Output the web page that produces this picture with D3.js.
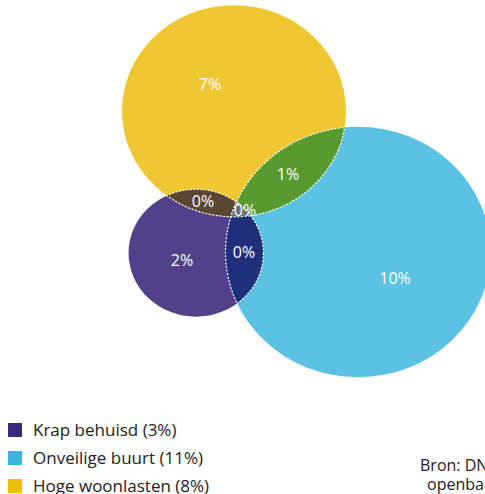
<!DOCTYPE html>
<html>
<head>
<meta charset="utf-8">
<script src="https://cdn.jsdelivr.net/npm/d3@7"></script>
<style>
  html, body { margin: 0; padding: 0; background: #fff; overflow: hidden; }
  svg { display: block; font-family: "Open Sans", sans-serif; }
</style>
</head>
<body>
<svg id="chart" width="485" height="494"></svg>
<script>
// Sets (share of households, %)
const setKeys   = ["krap", "onveilig", "woonlasten"];
const setNames  = ["Krap behuisd", "Onveilige buurt", "Hoge woonlasten"];
const setSizes  = [2.9, 11.2, 8.0];
const legendPct = [3, 11, 8];

// Region labels (exclusive parts of the diagram, %)
const regionSets   = [["woonlasten"], ["onveilig"], ["krap"],
                      ["woonlasten", "onveilig"], ["woonlasten", "krap"],
                      ["krap", "onveilig"], ["woonlasten", "onveilig", "krap"]];
const regionValues = [7, 10, 2, 1, 0, 0, 0];

// Source lines
const sourceLines = ["Bron: DNB", "openbaar"];

// Layout: circle centres and label anchor points in pixels
const centres = { krap: [196, 253], onveilig: [358, 252], woonlasten: [234, 111] };
const labelPos = [[210, 90], [395, 284], [182, 266], [288, 180], [203, 207], [245, 216], [244, 258]];
const squash = 0.945; // vertical aspect of the drawing area

const legendColor = { krap: "#3a2a7e", onveilig: "#3ab4e1", woonlasten: "#eebf00" };
const circleColor = { krap: "#52418a", onveilig: "#5bc2e4", woonlasten: "#efc732" };
const pairColor = {
  "woonlasten|onveilig": "#579a30",
  "woonlasten|krap": "#5a4632",
  "krap|onveilig": "#1f2f7a"
};
const tripleColor = "#6e6e6e";

const svg = d3.select("#chart");

// Radius scale: circle area proportional to set size
const r = d3.scaleSqrt().domain([0, 8.0]).range([0, 112]);

const circles = setKeys.map((k, i) => ({ key: k, cx: centres[k][0], cy: centres[k][1], r: r(setSizes[i]) }));
const byKey = Object.fromEntries(circles.map(c => [c.key, c]));

function shape(sel, c) {
  return sel.attr("cx", c.cx).attr("cy", c.cy).attr("rx", c.r).attr("ry", c.r * squash);
}

const defs = svg.append("defs");
circles.forEach(c => {
  shape(defs.append("clipPath").attr("id", "clip-" + c.key).append("ellipse"), c);
});

const g = svg.append("g");

// Base circles
g.selectAll("ellipse.set")
  .data(circles)
  .join("ellipse")
  .attr("class", "set")
  .each(function (d) { shape(d3.select(this), d); })
  .attr("fill", d => circleColor[d.key]);

// Draws the intersection of the given sets with a filled region and dotted borders
function drawIntersection(keys, color) {
  let inner = g.append("g");
  keys.slice(1).forEach(k => { inner = inner.append("g").attr("clip-path", `url(#clip-${k})`); });
  shape(inner.append("ellipse"), byKey[keys[0]]).attr("fill", color);
  // dotted border: each circle's arc clipped by the other sets
  keys.forEach(k => {
    let gg = g.append("g");
    keys.filter(o => o !== k).forEach(o => { gg = gg.append("g").attr("clip-path", `url(#clip-${o})`); });
    shape(gg.append("ellipse"), byKey[k])
      .attr("fill", "none")
      .attr("stroke", "#fff")
      .attr("stroke-width", 1.2)
      .attr("stroke-dasharray", "2,1.6");
  });
}

Object.entries(pairColor).forEach(([k, col]) => drawIntersection(k.split("|"), col));
drawIntersection(["woonlasten", "onveilig", "krap"], tripleColor);

// Region labels
g.selectAll("text.region")
  .data(regionValues.map((v, i) => ({ v, p: labelPos[i] })))
  .join("text")
  .attr("class", "region")
  .attr("x", d => d.p[0]).attr("y", d => d.p[1])
  .attr("text-anchor", "middle")
  .attr("fill", "#fff")
  .attr("font-size", 16)
  .text(d => d.v + "%");

// Legend
const legend = svg.append("g").attr("transform", "translate(8,423)");
const rows = legend.selectAll("g.row")
  .data(setKeys.map((k, i) => ({ k, name: setNames[i], pct: legendPct[i] })))
  .join("g")
  .attr("class", "row")
  .attr("transform", (d, i) => `translate(0,${i * 28})`);
rows.append("rect").attr("width", 14).attr("height", 14).attr("fill", d => legendColor[d.k]);
rows.append("text")
  .attr("x", 25).attr("y", 13)
  .attr("font-size", 17)
  .attr("fill", "#222")
  .text(d => `${d.name} (${d.pct}%)`);

// Source note
svg.append("g").attr("font-size", 16).attr("fill", "#222")
  .selectAll("text")
  .data(sourceLines)
  .join("text")
  .attr("x", (d, i) => 420 + i * 7)
  .attr("y", (d, i) => 471 + i * 19)
  .text(d => d);
</script>
</body>
</html>
